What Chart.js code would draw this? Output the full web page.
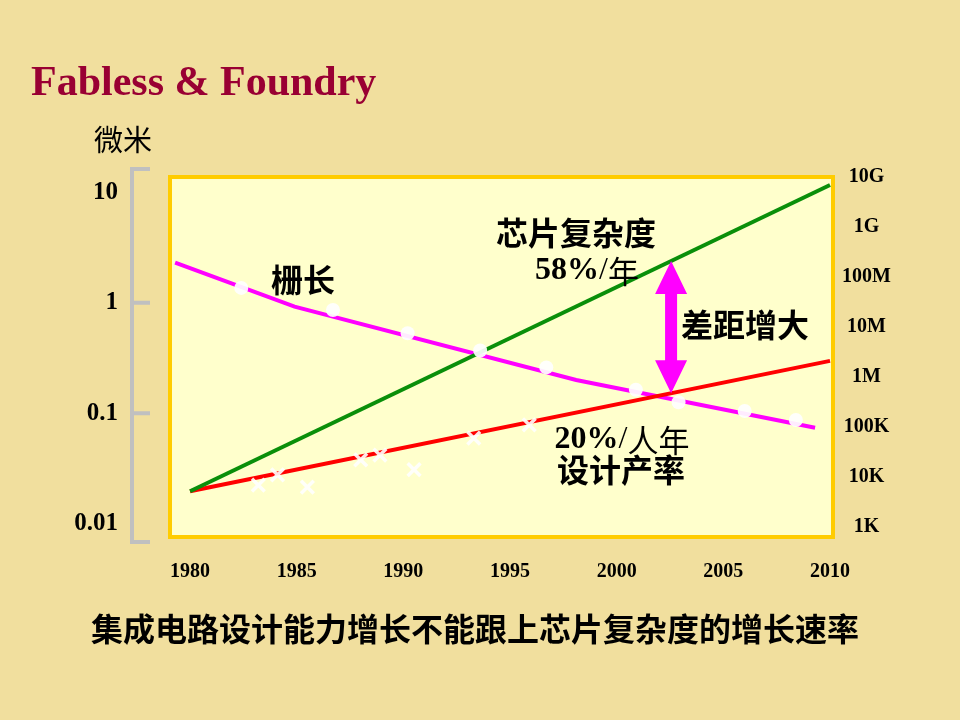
<!DOCTYPE html>
<html>
<head>
<meta charset="utf-8">
<script src="https://cdn.jsdelivr.net/npm/chart.js@4.4.1/dist/chart.umd.min.js"></script>
<style>
  html, body { margin: 0; padding: 0; background: #f1df9e; }
  canvas { display: block; }
</style>
</head>
<body>
<canvas id="chart" width="960" height="720"></canvas>
<script>
const years = [1980, 1985, 1990, 1995, 2000, 2005, 2010];
const micronTicks = [0.01, 0.1, 1, 10];
const countTicks = [1e3, 1e4, 1e5, 1e6, 1e7, 1e8, 1e9, 1e10];
const countLabels = ["1K", "10K", "100K", "1M", "10M", "100M", "1G", "10G"];

// chip complexity, 58% a year
const complexityYears = [1980, 2010];
const complexity = [5.2e3, 6.9e9];
// design productivity, 20% per staff-year
const productivityYears = [1980, 2010];
const productivity = [5.2e3, 2.1e6];
const productivitySampleYears = [1983.2, 1984.1, 1985.5, 1988.0, 1988.9, 1990.5, 1993.3, 1995.9];
const productivitySamples = [6.9e3, 1.1e4, 6.3e3, 2.2e4, 2.75e4, 1.4e4, 6.0e4, 1.1e5];
// gate length, micron
const gateYears = [1979.3, 1984.9, 1998.1, 2009.3];
const gateLength = [2.3, 0.92, 0.2, 0.074];
const gateSampleYears = [1982.4, 1986.7, 1990.2, 1993.6, 1996.7, 2000.9, 2002.9, 2006.0, 2008.4];
const gateSamples = [1.36, 0.86, 0.53, 0.37, 0.26, 0.163, 0.126, 0.105, 0.087];

const gapYear = 2002.55;

const pts = (xs, ys) => xs.map((x, i) => ({ x: x, y: ys[i] }));

// value on a straight line of a log axis
function logAt(xs, ys, x) {
  let i = 0;
  while (i < xs.length - 2 && x > xs[i + 1]) i++;
  const t = (x - xs[i]) / (xs[i + 1] - xs[i]);
  const a = Math.log10(ys[i]), b = Math.log10(ys[i + 1]);
  return Math.pow(10, a + (b - a) * t);
}

const SERIF = "'Liberation Serif', 'Times New Roman', serif";
const CJK = "'Noto Sans CJK SC', sans-serif";

function drawRuns(ctx, runs, cx, cy) {
  let w = 0;
  runs.forEach(r => { ctx.font = r.font; w += ctx.measureText(r.t).width; });
  let x = cx - w / 2;
  ctx.textAlign = "left";
  runs.forEach(r => {
    ctx.font = r.font;
    ctx.fillText(r.t, x, cy);
    x += ctx.measureText(r.t).width;
  });
}

const slide = {
  id: "slide",
  beforeDraw(chart) {
    const { ctx, chartArea: a } = chart;
    ctx.save();
    ctx.fillStyle = "#f1df9e";
    ctx.fillRect(0, 0, chart.width, chart.height);
    ctx.fillStyle = "#ffffcc";
    ctx.fillRect(a.left, a.top, a.right - a.left, a.bottom - a.top);
    ctx.strokeStyle = "#ffcc00";
    ctx.lineWidth = 4;
    ctx.strokeRect(a.left, a.top, a.right - a.left, a.bottom - a.top);

    // grey bracket for the micron axis
    const yL = chart.scales.yL;
    const top = a.top - 8, bot = a.bottom + 5;
    ctx.strokeStyle = "#c0c0c0";
    ctx.lineWidth = 4;
    ctx.beginPath();
    ctx.moveTo(150, top); ctx.lineTo(132, top); ctx.lineTo(132, bot); ctx.lineTo(150, bot);
    [1, 0.1].forEach(v => {
      const y = yL.getPixelForValue(v);
      ctx.moveTo(132, y); ctx.lineTo(150, y);
    });
    ctx.stroke();
    ctx.restore();
  },
  afterDraw(chart) {
    const { ctx } = chart;
    const x = chart.scales.x.getPixelForValue(gapYear);
    const yR = chart.scales.yR;
    const yTop = yR.getPixelForValue(logAt(complexityYears, complexity, gapYear));
    const yBot = yR.getPixelForValue(logAt(productivityYears, productivity, gapYear));
    ctx.save();
    ctx.fillStyle = "#ff00ff";
    ctx.beginPath();
    ctx.moveTo(x, yTop);
    ctx.lineTo(x + 16, yTop + 33);
    ctx.lineTo(x + 6, yTop + 33);
    ctx.lineTo(x + 6, yBot - 33);
    ctx.lineTo(x + 16, yBot - 33);
    ctx.lineTo(x, yBot);
    ctx.lineTo(x - 16, yBot - 33);
    ctx.lineTo(x - 6, yBot - 33);
    ctx.lineTo(x - 6, yTop + 33);
    ctx.lineTo(x - 16, yTop + 33);
    ctx.closePath();
    ctx.fill();

    ctx.fillStyle = "#990033";
    ctx.textAlign = "left";
    ctx.textBaseline = "alphabetic";
    ctx.font = "bold 42px " + SERIF;
    ctx.fillText("Fabless & Foundry", 31, 95);

    ctx.textBaseline = "middle";
    ctx.fillStyle = "#000";
    ctx.textAlign = "center";
    ctx.font = "29px " + CJK;
    ctx.fillText("微米", 123, 140);

    ctx.font = "bold 32px " + CJK;
    ctx.fillText("芯片复杂度", 576, 233);
    ctx.fillText("栅长", 303, 280);
    ctx.fillText("差距增大", 745, 325);
    ctx.fillText("设计产率", 621, 470);
    drawRuns(ctx, [
      { t: "58%", font: "bold 32px " + SERIF },
      { t: "/", font: "32px " + SERIF },
      { t: "年", font: "31px " + CJK }
    ], 587, 271);
    drawRuns(ctx, [
      { t: "20%", font: "bold 32px " + SERIF },
      { t: "/", font: "32px " + SERIF },
      { t: "人年", font: "31px " + CJK }
    ], 622, 440);

    ctx.textAlign = "center";
    ctx.font = "bold 32px " + CJK;
    ctx.fillText("集成电路设计能力增长不能跟上芯片复杂度的增长速率", 475, 629);
    ctx.restore();
  }
};

new Chart(document.getElementById("chart"), {
  type: "scatter",
  data: {
    datasets: [
      {
        label: "productivity samples",
        data: pts(productivitySampleYears, productivitySamples),
        yAxisID: "yR",
        pointStyle: "crossRot",
        pointRadius: 9,
        pointBorderWidth: 3.5,
        pointBorderColor: "rgba(255,255,255,0.9)",
        showLine: false,
      },
      {
        label: "gate samples",
        data: pts(gateSampleYears, gateSamples),
        yAxisID: "yL",
        pointStyle: "circle",
        pointRadius: 7,
        pointBorderWidth: 0,
        pointBackgroundColor: "rgba(255,255,255,0.92)",
        showLine: false,
      },
      {
        label: "complexity",
        data: pts(complexityYears, complexity),
        yAxisID: "yR",
        showLine: true,
        borderColor: "#0a8f0a",
        borderWidth: 4,
        pointRadius: 0,
      },
      {
        label: "productivity",
        data: pts(productivityYears, productivity),
        yAxisID: "yR",
        showLine: true,
        borderColor: "#ff0000",
        borderWidth: 4,
        pointRadius: 0,
      },
      {
        label: "gate length",
        data: pts(gateYears, gateLength),
        yAxisID: "yL",
        showLine: true,
        borderColor: "#ff00ff",
        borderWidth: 4,
        pointRadius: 0,
      },
    ],
  },
  options: {
    responsive: false,
    animation: false,
    devicePixelRatio: 1,
    layout: { padding: { left: 60, right: 27, top: 177, bottom: 123 } },
    plugins: {
      legend: { display: false },
      tooltip: { enabled: false },
    },
    scales: {
      x: {
        type: "linear",
        bounds: "data",
        min: 1979.06,
        max: 2010.14,
        afterBuildTicks: s => { s.ticks = years.map(v => ({ value: v })); },
        afterFit: s => { s.height = 60; },
        grid: { display: false, drawTicks: false },
        border: { display: false },
        ticks: {
          padding: 23,
          color: "#000",
          font: { family: SERIF, size: 20, weight: "bold" },
          maxRotation: 0,
          autoSkip: false,
          callback: v => String(v),
        },
      },
      yL: {
        type: "logarithmic",
        position: "left",
        bounds: "data",
        min: 0.00761,
        max: 13.69,
        afterBuildTicks: s => { s.ticks = micronTicks.map(v => ({ value: v })); },
        afterFit: s => { s.width = 110; },
        grid: { display: false, drawTicks: false },
        border: { display: false },
        ticks: {
          padding: 52,
          color: "#000",
          font: { family: SERIF, size: 25, weight: "bold" },
          callback: v => String(v),
        },
      },
      yR: {
        type: "logarithmic",
        position: "right",
        bounds: "data",
        min: 631,
        max: 1e10,
        afterBuildTicks: s => { s.ticks = countTicks.map(v => ({ value: v })); },
        afterFit: s => { s.width = 100; },
        grid: { display: false, drawTicks: false },
        border: { display: false },
        ticks: {
          padding: 9,
          crossAlign: "center",
          color: "#000",
          font: { family: SERIF, size: 20, weight: "bold" },
          callback: v => countLabels[countTicks.indexOf(v)],
        },
      },
    },
  },
  plugins: [slide],
});
</script>
</body>
</html>
